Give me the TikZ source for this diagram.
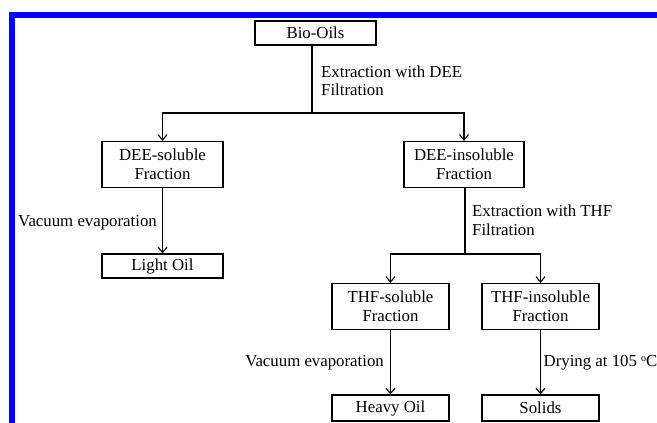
\documentclass[tikz,border=0pt]{standalone}
\usepackage{fontspec}
\setmainfont{Liberation Serif}
\usetikzlibrary{arrows.meta}
\begin{document}
\begin{tikzpicture}[x=1pt,y=-1pt,
  every node/.style={font=\fontsize{16.8}{18.5}\selectfont, inner sep=0pt},
  box/.style={draw, line width=1.1pt, minimum width=#1, align=center},
  onebox/.style={box=#1, minimum height=24pt},
  twobox/.style={box=#1, minimum height=46pt},
  conn/.style={line width=1.1pt},
  arr/.style={conn, -{Straight Barb[length=5.5pt,width=9pt,line width=1.1pt]}},
  lbl/.style={align=left}
]
\useasboundingbox (0,0) rectangle (657,423);
% blue frame
\fill[blue] (9,12) rectangle (657,17.5);
\fill[blue] (9,12) rectangle (15,423);

\node[onebox=121pt] (bio) at (315.5,33) {Bio-Oils};
\node[twobox=121pt] (dsol) at (162.5,164.5) {DEE-soluble\\Fraction};
\node[twobox=120pt] (dins) at (464,164.5) {DEE-insoluble\\Fraction};
\node[onebox=121pt] (light) at (162.5,266) {Light Oil};
\node[twobox=117pt] (tsol) at (390.5,306.5) {THF-soluble\\Fraction};
\node[twobox=117pt] (tins) at (540.5,306.5) {THF-insoluble\\Fraction};
\node[box=117pt, minimum height=26pt] (heavy) at (390.5,408) {Heavy Oil};
\node[box=117pt, minimum height=26pt] (solids) at (540.5,408) {Solids};

\node[lbl, anchor=west] (l1) at (321,81) {Extraction with DEE\\Filtration};
\node[lbl, anchor=east] (l2) at (157,223) {Vacuum evaporation};
\node[lbl, anchor=west] (l3) at (472,220.5) {Extraction with THF\\Filtration};
\node[lbl, anchor=east] (l4) at (384,363) {Vacuum evaporation};
\node[lbl, anchor=west] (l5) at (543.5,363) {Drying at 105 \raisebox{5pt}{\fontsize{10}{10}\selectfont o}C};

\coordinate (j1) at (312,113);
\coordinate (j2) at (465,254);
\draw[conn] (bio.south -| j1) -- (j1);
\draw[arr] (j1) -| (dsol.north);
\draw[arr] (j1) -| (dins.north);
\draw[arr] (dsol) -- (light);
\draw[conn] (dins.south -| j2) -- (j2);
\draw[arr] (j2) -| (tsol.north);
\draw[arr] (j2) -| (tins.north);
\draw[arr] (tsol) -- (heavy);
\draw[arr] (tins) -- (solids);
\end{tikzpicture}
\end{document}
